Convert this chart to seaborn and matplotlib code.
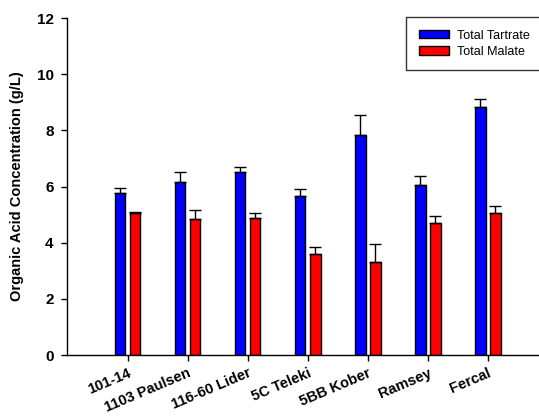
import numpy as np
import pandas as pd
import matplotlib
matplotlib.use("Agg")
import matplotlib.pyplot as plt
import seaborn as sns

rootstocks = ["101-14", "1103 Paulsen", "116-60 Lider", "5C Teleki",
              "5BB Kober", "Ramsey", "Fercal"]
series = ["Total Tartrate", "Total Malate"]
tartrate = [5.76, 6.16, 6.50, 5.66, 7.83, 6.04, 8.82]
tartrate_err = [0.17, 0.36, 0.18, 0.26, 0.71, 0.32, 0.31]
malate = [5.04, 4.83, 4.87, 3.60, 3.31, 4.69, 5.04]
malate_err = [0.06, 0.35, 0.20, 0.26, 0.63, 0.25, 0.28]
yticks = [0, 2, 4, 6, 8, 10, 12]

sns.set_style("white")
plt.rcParams["font.family"] = ["Liberation Sans", "DejaVu Sans"]
plt.rcParams["text.color"] = "black"
plt.rcParams["axes.labelcolor"] = "black"
plt.rcParams["xtick.color"] = "black"
plt.rcParams["ytick.color"] = "black"

df = pd.DataFrame({
    "Rootstock": rootstocks * 2,
    "Acid": [series[0]] * len(rootstocks) + [series[1]] * len(rootstocks),
    "Value": tartrate + malate,
})

fig = plt.figure(figsize=(5.39, 4.16), dpi=100)
ax = fig.add_axes([0.1252, 0.1466, 0.8748, 0.8101])

sns.barplot(data=df, x="Rootstock", y="Value", hue="Acid", order=rootstocks,
            hue_order=series, palette=["#0000ff", "#ff0000"], saturation=1,
            width=0.5, gap=0.3, errorbar=None, edgecolor="black",
            linewidth=1.0, ax=ax, legend=True)

# upward-only error bars centred on each bar
for container, errs in zip(ax.containers, [tartrate_err, malate_err]):
    xs = [p.get_x() + p.get_width() / 2 for p in container.patches]
    hs = [p.get_height() for p in container.patches]
    ax.errorbar(xs, hs, yerr=[np.zeros(len(errs)), errs], fmt="none",
                ecolor="black", elinewidth=1.0, capsize=4, capthick=1.0,
                zorder=1)

ax.set_xlim(-1.0, 6.85)
ax.set_ylim(0, 12)
ax.set_yticks(yticks)
ax.set_yticklabels([str(t) for t in yticks], fontweight="bold", fontsize=11)
ax.set_xticks(range(len(rootstocks)))
ax.set_xticklabels(rootstocks, rotation=23, ha="right", rotation_mode="anchor",
                   fontweight="bold", fontsize=10.5)
ax.set_xlabel("")
ax.set_ylabel("Organic Acid Concentration (g/L)", fontweight="bold",
              fontsize=10.5, labelpad=9)

for side in ["top", "right"]:
    ax.spines[side].set_visible(False)
for side in ["left", "bottom"]:
    ax.spines[side].set_color("black")
    ax.spines[side].set_linewidth(1.0)
ax.tick_params(axis="both", which="major", direction="out", length=4,
               width=1.0, color="black", bottom=True, left=True)
ax.tick_params(axis="y", pad=6)
ax.tick_params(axis="x", pad=4)

leg = ax.legend(loc="upper left", bbox_to_anchor=(0.718, 1.003),
                frameon=True, fancybox=False, fontsize=9, handlelength=2.4,
                handleheight=0.65, borderpad=1.0, labelspacing=0.35,
                handletextpad=0.7, borderaxespad=0)
leg.get_frame().set_edgecolor("black")
leg.get_frame().set_linewidth(1.0)
leg.set_clip_on(False)

fig.savefig("out.png", dpi=100)
